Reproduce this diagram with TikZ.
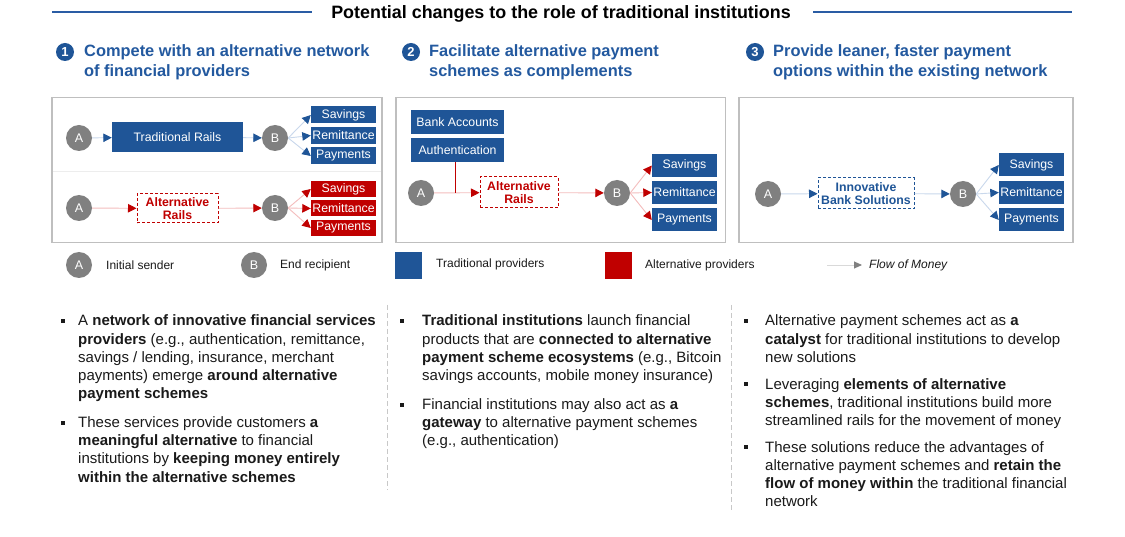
\documentclass[tikz,border=0pt]{standalone}
\usepackage{fontspec}
\setmainfont{Liberation Sans}
\usetikzlibrary{arrows.meta}
\definecolor{navy}{HTML}{1F5597}
\definecolor{hdr}{HTML}{23599F}
\definecolor{tline}{HTML}{2A5CA4}
\definecolor{redb}{HTML}{C00000}
\definecolor{lblue}{HTML}{C9D8EC}
\definecolor{lred}{HTML}{F4BDBD}
\definecolor{cgray}{HTML}{808080}
\definecolor{pborder}{HTML}{BFBFBF}
\definecolor{sepgray}{HTML}{C8C8C8}
\definecolor{bodyc}{HTML}{1A1A1A}
\newcommand\bodyline[3]{\node[body,anchor=base west] (#1) at (#2) {#3};}
\newcommand\bulletsq[2]{\node[bul] (#1) at (#2) {};}
\begin{document}
\begin{tikzpicture}[x=1pt,y=-1pt,
  circ/.style={circle,fill=cgray,minimum size=26pt,inner sep=0pt,text=white,font=\fontsize{12.5}{14}\selectfont},
  nbox/.style={fill=navy,text=white,inner sep=0pt,font=\fontsize{12.3}{14}\selectfont},
  rbox/.style={fill=redb,text=white,inner sep=0pt,font=\fontsize{12.3}{14}\selectfont},
  dred/.style={draw=redb,line width=1pt,dash pattern=on 3pt off 2pt,fill=white,text=redb,inner sep=0pt,align=center,font=\bfseries\fontsize{12.3}{13.5}\selectfont},
  dblue/.style={draw=navy,line width=1pt,dash pattern=on 3pt off 2pt,fill=white,text=navy,inner sep=0pt,align=center,font=\bfseries\fontsize{12.3}{13.5}\selectfont},
  fb/.style={draw=lblue,line width=0.9pt,-{Triangle[length=8.5pt,width=8.5pt,color=navy]}},
  fr/.style={draw=lred,line width=0.9pt,-{Triangle[length=8.5pt,width=8.5pt,color=redb]}},
  panel/.style={draw=pborder,line width=1.3pt},
  numc/.style={circle,fill=navy,minimum size=18pt,inner sep=0pt,text=white,font=\bfseries\fontsize{13}{14}\selectfont},
  hdrt/.style={text=hdr,font=\bfseries\fontsize{16.4}{20}\selectfont,anchor=base west,inner sep=0pt},
  body/.style={text=bodyc,font=\fontsize{15}{18}\selectfont,inner sep=0pt},
  bul/.style={fill=bodyc,minimum size=4pt,inner sep=0pt},
  legt/.style={text=bodyc,font=\fontsize{12}{14}\selectfont,anchor=west,inner sep=0pt},
  colsep/.style={draw=sepgray,line width=0.8pt,dash pattern=on 5pt off 3pt}
]
\useasboundingbox[fill=white] (0,0) rectangle (1125,537);

% ---- title
\node[font=\bfseries\fontsize{17.9}{20}\selectfont,inner sep=0pt,anchor=base] (title) at (561,18.5) {Potential changes to the role of traditional institutions};
\coordinate (tl1) at (52,11.7);
\coordinate (tl2) at (312,11.7);
\coordinate (tr1) at (813,11.7);
\coordinate (tr2) at (1072,11.7);
\draw[tline,line width=1.8pt] (tl1) -- (tl2);
\draw[tline,line width=1.8pt] (tr1) -- (tr2);

% ---- headers
\node[numc] (n1) at (65,52) {1};
\node[hdrt] (h1a) at (84,56.7) {Compete with an alternative network};
\node[hdrt] (h1b) at (84,76.7) {of financial providers};
\node[numc] (n2) at (411,52) {2};
\node[hdrt] (h2a) at (429,56.7) {Facilitate alternative payment};
\node[hdrt] (h2b) at (429,76.7) {schemes as complements};
\node[numc] (n3) at (755,52) {3};
\node[hdrt] (h3a) at (773,56.7) {Provide leaner, faster payment};
\node[hdrt] (h3b) at (773,76.7) {options within the existing network};

% ---- panels
\draw[panel] (52,97.7) rectangle (382,242.7);
\draw[panel] (396,97.7) rectangle (725.5,242.7);
\draw[panel] (739,97.7) rectangle (1073,242.7);
\draw[draw=black!7,line width=0.8pt] (53,171) -- (381,171);

% ---- panel 1, row 1
\node[circ] (A1) at (79,138) {A};
\node[nbox,minimum width=131pt,minimum height=30pt] (TR) at (177.5,137) {Traditional Rails};
\node[circ] (B1) at (275,138) {B};
\node[nbox,minimum width=65pt,minimum height=17pt] (S1) at (343.5,115) {Savings};
\node[nbox,minimum width=65pt,minimum height=17pt] (R1) at (343.5,135.5) {Remittance};
\node[nbox,minimum width=65pt,minimum height=17pt] (P1) at (343.5,156) {Payments};
\draw[fb] (A1) -- (TR);
\draw[fb] (TR) -- (B1);
\draw[fb] (B1.east) -- (S1.west);
\draw[fb] (B1.east) -- (R1.west);
\draw[fb] (B1.east) -- (P1.west);

% ---- panel 1, row 2
\node[circ] (A2) at (79,208) {A};
\node[dred,minimum width=81pt,minimum height=29pt] (AR1) at (177.5,208.5) {Alternative\\Rails};
\node[circ] (B2) at (275,208) {B};
\node[rbox,minimum width=65pt,minimum height=16pt] (S1r) at (343.5,189) {Savings};
\node[rbox,minimum width=65pt,minimum height=16pt] (R1r) at (343.5,208.5) {Remittance};
\node[rbox,minimum width=65pt,minimum height=16pt] (P1r) at (343.5,228) {Payments};
\draw[fr] (A2) -- (AR1);
\draw[fr] (AR1) -- (B2);
\draw[fr] (B2.east) -- (S1r.west);
\draw[fr] (B2.east) -- (R1r.west);
\draw[fr] (B2.east) -- (P1r.west);

% ---- panel 2
\node[nbox,minimum width=93pt,minimum height=24pt] (BA) at (457.5,122) {Bank Accounts};
\node[nbox,minimum width=93pt,minimum height=24pt] (AU) at (457.5,150) {Authentication};
\node[circ] (A3) at (421,193) {A};
\node[dred,minimum width=78pt,minimum height=31pt] (AR2) at (519,192.5) {Alternative\\Rails};
\node[circ] (B3) at (617,193) {B};
\node[nbox,minimum width=65pt,minimum height=23pt] (S2) at (684.5,165.5) {Savings};
\node[nbox,minimum width=65pt,minimum height=23pt] (R2) at (684.5,192.5) {Remittance};
\node[nbox,minimum width=65pt,minimum height=23pt] (P2) at (684.5,220) {Payments};
\coordinate (j2) at (455,193);
\draw[fr] (A3) -- (AR2);
\draw[redb,line width=0.9pt] (AU.south -| j2) -- (j2);
\draw[fr] (AR2) -- (B3);
\draw[fr] (B3.east) -- (S2.west);
\draw[fr] (B3.east) -- (R2.west);
\draw[fr] (B3.east) -- (P2.west);

% ---- panel 3
\node[circ] (A4) at (768,194) {A};
\node[dblue,minimum width=96pt,minimum height=31pt] (IB) at (866,193.5) {Innovative\\Bank Solutions};
\node[circ] (B4) at (963,194) {B};
\node[nbox,minimum width=65pt,minimum height=23pt] (S3) at (1031.5,165) {Savings};
\node[nbox,minimum width=65pt,minimum height=23pt] (R3) at (1031.5,192.5) {Remittance};
\node[nbox,minimum width=65pt,minimum height=23pt] (P3) at (1031.5,220) {Payments};
\draw[fb] (A4) -- (IB);
\draw[fb] (IB) -- (B4);
\draw[fb] (B4.east) -- (S3.west);
\draw[fb] (B4.east) -- (R3.west);
\draw[fb] (B4.east) -- (P3.west);

% ---- legend
\node[circ] (LA) at (79,265) {A};
\node[legt] (LAt) at (106,265) {Initial sender};
\node[circ] (LB) at (254,265) {B};
\node[legt] (LBt) at (280,265) {End recipient};
\node[fill=navy,minimum size=26.5pt,inner sep=0pt] (LT) at (408.5,265.5) {};
\node[legt] (LTt) at (436,264) {Traditional providers};
\node[fill=redb,minimum size=26.5pt,inner sep=0pt] (LR) at (618.3,265.5) {};
\node[legt] (LRt) at (645,265) {Alternative providers};
\coordinate (lf1) at (827,265);
\node[legt,font=\itshape\fontsize{12}{14}\selectfont] (LFt) at (869,265) {Flow of Money};
\draw[draw=black!15,line width=0.9pt,-{Triangle[length=8pt,width=7pt,color=cgray]}] (lf1) -- ([xshift=-7pt]LFt.west);

% ---- column separators
\coordinate (cs1a) at (387,305);
\coordinate (cs1b) at (387,490);
\coordinate (cs2a) at (731.7,305);
\coordinate (cs2b) at (731.7,512);
\draw[colsep] (cs1a) -- (cs1b);
\draw[colsep] (cs2a) -- (cs2b);

% ---- column 1 text
\bulletsq{b11}{63,321}
\bodyline{c1a}{78,326}{A \textbf{network of innovative financial services}}
\bodyline{c1b}{78,344.2}{\textbf{providers} (e.g., authentication, remittance,}
\bodyline{c1c}{78,362.4}{savings / lending, insurance, merchant}
\bodyline{c1d}{78,380.6}{payments) emerge \textbf{around alternative}}
\bodyline{c1e}{78,398.8}{\textbf{payment schemes}}
\bulletsq{b12}{63,422.5}
\bodyline{c1f}{78,427.5}{These services provide customers \textbf{a}}
\bodyline{c1g}{78,445.7}{\textbf{meaningful alternative} to financial}
\bodyline{c1h}{78,463.9}{institutions by \textbf{keeping money entirely}}
\bodyline{c1i}{78,482.1}{\textbf{within the alternative schemes}}

% ---- column 2 text
\bulletsq{b21}{402,321}
\bodyline{c2a}{422,326}{\textbf{Traditional institutions} launch financial}
\bodyline{c2b}{422,344.2}{products that are \textbf{connected to alternative}}
\bodyline{c2c}{422,362.4}{\textbf{payment scheme ecosystems} (e.g., Bitcoin}
\bodyline{c2d}{422,380.6}{savings accounts, mobile money insurance)}
\bulletsq{b22}{402,404.5}
\bodyline{c2e}{422,409.5}{Financial institutions may also act as \textbf{a}}
\bodyline{c2f}{422,427.7}{\textbf{gateway} to alternative payment schemes}
\bodyline{c2g}{422,445.9}{(e.g., authentication)}

% ---- column 3 text
\bulletsq{b31}{746,321}
\bodyline{c3a}{765,326}{Alternative payment schemes act as \textbf{a}}
\bodyline{c3b}{765,344.2}{\textbf{catalyst} for traditional institutions to develop}
\bodyline{c3c}{765,362.4}{new solutions}
\bulletsq{b32}{746,384}
\bodyline{c3d}{765,389}{Leveraging \textbf{elements of alternative}}
\bodyline{c3e}{765,407.2}{\textbf{schemes}, traditional institutions build more}
\bodyline{c3f}{765,425.4}{streamlined rails for the movement of money}
\bulletsq{b33}{746,447.3}
\bodyline{c3g}{765,452.3}{These solutions reduce the advantages of}
\bodyline{c3h}{765,470.5}{alternative payment schemes and \textbf{retain the}}
\bodyline{c3i}{765,488.7}{\textbf{flow of money within} the traditional financial}
\bodyline{c3j}{765,506.9}{network}
\end{tikzpicture}
\end{document}
